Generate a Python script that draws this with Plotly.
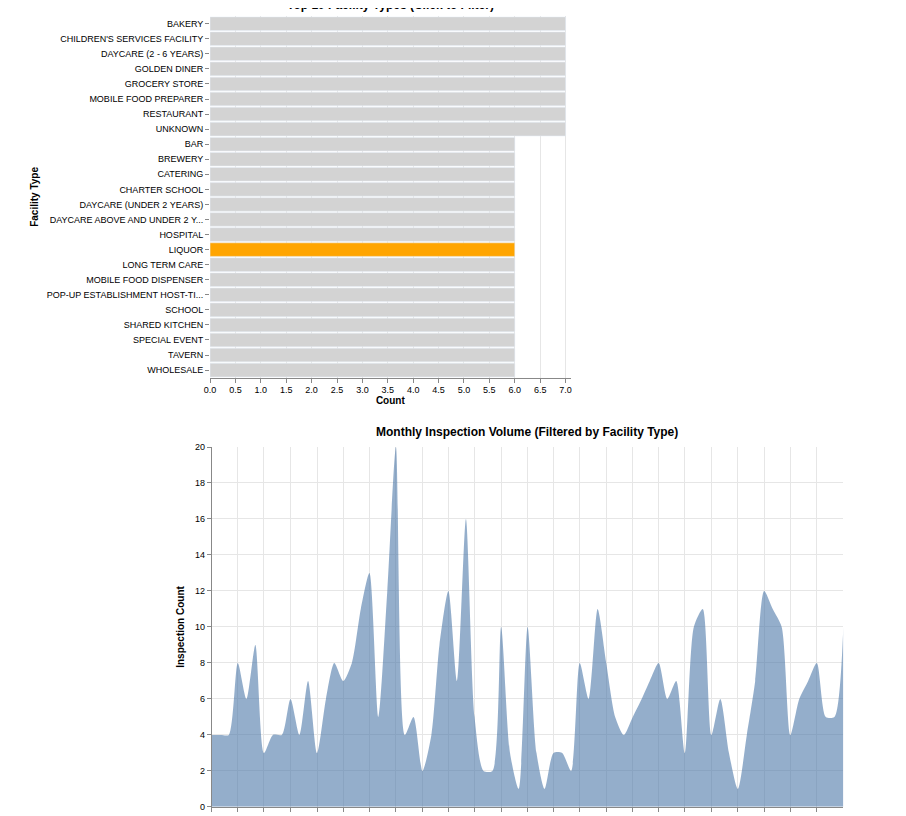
import plotly.graph_objects as go
import pandas as pd

facility_types = ["BAKERY", "CHILDREN'S SERVICES FACILITY", "DAYCARE (2 - 6 YEARS)", "GOLDEN DINER",
                  "GROCERY STORE", "MOBILE FOOD PREPARER", "RESTAURANT", "UNKNOWN", "BAR", "BREWERY",
                  "CATERING", "CHARTER SCHOOL", "DAYCARE (UNDER 2 YEARS)", "DAYCARE ABOVE AND UNDER 2 Y...",
                  "HOSPITAL", "LIQUOR", "LONG TERM CARE", "MOBILE FOOD DISPENSER",
                  "POP-UP ESTABLISHMENT HOST-TI...", "SCHOOL", "SHARED KITCHEN", "SPECIAL EVENT",
                  "TAVERN", "WHOLESALE"]
facility_counts = [7] * 8 + [6] * 16
selected_type = "LIQUOR"

months = pd.date_range("2019-01-01", "2025-01-01", freq="MS")
inspections = [4, 4, 4, 8, 6, 9, 3, 4, 4, 6, 4, 7,
               3, 6, 8, 7, 8, 11, 13, 5, 12, 20, 4, 5,
               2, 4, 9, 12, 7, 16, 5, 2, 2, 10, 3, 1,
               10, 3, 1, 3, 3, 2, 8, 6, 11, 8, 5, 4,
               5, 6, 7, 8, 6, 7, 3, 10, 11, 4, 6, 3,
               1, 4, 7, 12, 11, 10, 4, 6, 7, 8, 5, 5,
               10]

tick_dates = pd.date_range("2019-01-01", "2024-10-01", freq="QS")
tick_text = []
for d in tick_dates:
    if d.month == 1:
        tick_text.append(str(d.year))
    elif d.month == 7:
        tick_text.append("July")
    else:
        tick_text.append("")

font = "Liberation Sans, Arial, sans-serif"
fig = go.Figure()

fig.add_trace(go.Bar(
    x=facility_counts, y=facility_types, orientation="h",
    marker_color=["#ffa500" if t == selected_type else "#d3d3d3" for t in facility_types],
    xaxis="x", yaxis="y", showlegend=False))

fig.add_trace(go.Scatter(
    x=months, y=inspections, mode="lines", fill="tozeroy",
    line=dict(width=0, shape="spline", smoothing=0.7),
    fillcolor="rgba(76,120,168,0.6)",
    xaxis="x2", yaxis="y2", showlegend=False))

grid = "#e6e6e6"
axis_common = dict(automargin=False, ticks="outside", ticklen=4, tickcolor="#888",
                   tickfont=dict(size=9))
fig.update_layout(
    width=906, height=816, margin=dict(l=0, r=0, t=0, b=0),
    paper_bgcolor="white", plot_bgcolor="white",
    font=dict(family=font, size=9, color="#000"),
    bargap=0.1,
    xaxis=dict(domain=[0.223, 0.621], range=[0, 7.1], dtick=0.5, tickformat=".1f",
               gridcolor=grid, showline=True, linecolor="#888",
               title=dict(text="<b>Count</b>", font=dict(size=10), standoff=2), **axis_common),
    yaxis=dict(domain=[0.547, 0.99], categoryorder="array", categoryarray=facility_types,
               autorange="reversed", showgrid=False,
               title=dict(text="<b>Facility Type</b>", font=dict(size=10), standoff=6), **axis_common),
    xaxis2=dict(domain=[0.225, 0.922], anchor="y2", range=["2019-01-01", "2025-01-01"],
                tickvals=tick_dates, ticktext=tick_text, gridcolor=grid, showline=True,
                linecolor="#888", **axis_common),
    yaxis2=dict(domain=[0.021, 0.462], anchor="x2", range=[0, 20], dtick=2, gridcolor=grid,
                showline=True, linecolor="#888", zeroline=False,
                title=dict(text="<b>Inspection Count</b>", font=dict(size=10), standoff=8),
                **axis_common),
    annotations=[
        dict(text="<b>Top 10 Facility Types (Click to Filter)</b>", x=0.422, y=1.004,
             xref="paper", yref="paper", showarrow=False, font=dict(size=12), yanchor="middle"),
        dict(text="<b>Monthly Inspection Volume (Filtered by Facility Type)</b>", x=0.573, y=0.481,
             xref="paper", yref="paper", showarrow=False, font=dict(size=12)),
    ],
)

fig.write_html("out.html")
